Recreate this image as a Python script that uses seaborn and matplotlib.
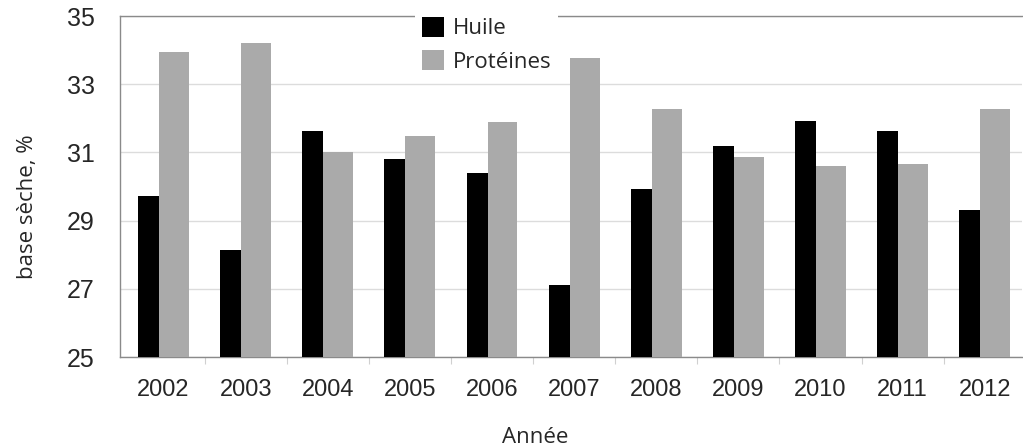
import matplotlib
matplotlib.use("Agg")
import matplotlib.pyplot as plt
import seaborn as sns
import pandas as pd
import numpy as np

years = ["2002", "2003", "2004", "2005", "2006", "2007", "2008", "2009", "2010", "2011", "2012"]
huile = [29.72, 28.15, 31.63, 30.8, 30.4, 27.11, 29.93, 31.2, 31.92, 31.63, 29.31]
proteines = [33.95, 34.2, 31.0, 31.47, 31.9, 33.78, 32.28, 30.87, 30.6, 30.67, 32.28]
series = ["Huile", "Protéines"]
colors = ["#000000", "#aaaaaa"]
yticks = [25, 27, 29, 31, 33, 35]

df = pd.DataFrame({
    "Année": years * 2,
    "val": huile + proteines,
    "serie": [series[0]] * len(years) + [series[1]] * len(years),
})

sns.set_theme(style="white")
fig, ax = plt.subplots(figsize=(10.23, 4.48), dpi=100)
fig.subplots_adjust(left=0.1173, right=0.9995, top=0.964, bottom=0.203)

sns.barplot(data=df, x="Année", y="val", hue="serie", palette=colors,
            width=0.62, saturation=1, ax=ax, zorder=3, legend=True,
            edgecolor="none", linewidth=0)

n = len(years)
bw, gw = 0.256, 0.365
for i in range(n):
    b = ax.patches[i]
    g = ax.patches[n + i]
    b.set_width(bw)
    g.set_width(gw)
    total = bw + gw
    b.set_x(i - total / 2)
    g.set_x(i - total / 2 + bw)

ax.set_ylim(25, 35)
ax.set_xlim(-0.53, n - 1 + 0.46)
ax.set_yticks(yticks)
ax.set_yticklabels([str(t) for t in yticks], fontsize=18, family="Liberation Sans")
ax.set_xticks(range(n))
ax.set_xticklabels(years, fontsize=17, family="Liberation Sans")
ax.set_xticks(np.arange(n - 1) + 0.5, minor=True)
ax.tick_params(axis="x", which="major", length=0, pad=16)
ax.tick_params(axis="x", which="minor", length=5, width=0.8, color="#d0d0d0", bottom=True)
ax.tick_params(axis="y", length=0, pad=18)

ax.yaxis.grid(True, color="#dcdcdc", linewidth=1, zorder=0)
ax.set_axisbelow(True)
for s in ["left", "top", "bottom"]:
    ax.spines[s].set_visible(True)
    ax.spines[s].set_color("#8a8a8a")
    ax.spines[s].set_linewidth(1)
ax.spines["right"].set_visible(False)

ax.set_xlabel("Année", fontsize=16, family="Open Sans")
ax.xaxis.label.set_va("baseline")
ax.xaxis.set_label_coords(0.460, -0.252)
ax.set_ylabel("base sèche, %", fontsize=16, family="Open Sans")
ax.yaxis.label.set_va("baseline")
ax.yaxis.set_label_coords(-0.0963, 0.44)

leg = ax.legend(loc="upper left", bbox_to_anchor=(0.327, 1.018), frameon=True,
                prop={"family": "Open Sans", "size": 16},
                handlelength=1.0, handleheight=1.0, handletextpad=0.4,
                labelspacing=0.5, borderpad=0.3, borderaxespad=0, title=None)
leg.get_frame().set_facecolor("white")
leg.get_frame().set_edgecolor("none")
leg.get_frame().set_alpha(1)
leg.set_zorder(10)
leg.set_in_layout(False)

fig.savefig("out.png", dpi=100)
